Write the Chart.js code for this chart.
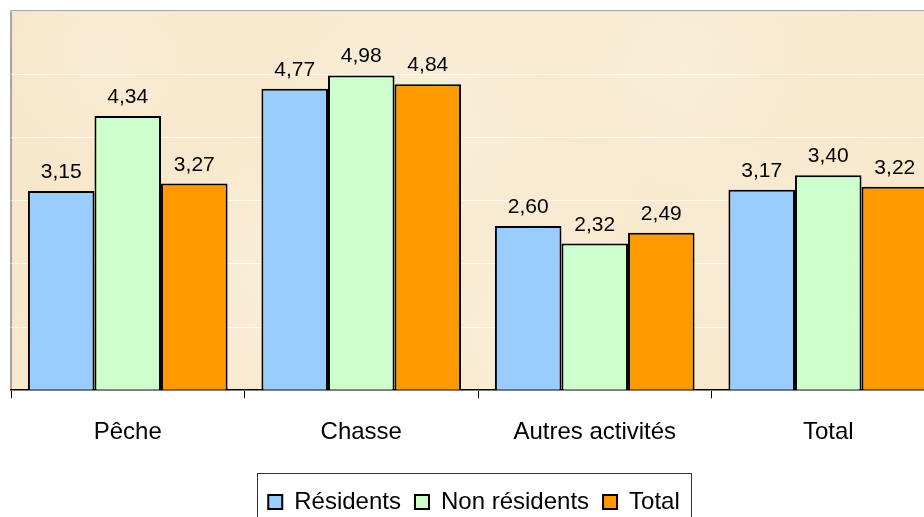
<!DOCTYPE html>
<html>
<head>
<meta charset="utf-8">
<script src="https://cdn.jsdelivr.net/npm/chart.js@4.4.0/dist/chart.umd.min.js"></script>
<style>
    html, body { margin: 0; padding: 0; background: #fff; overflow: hidden; }
    #wrap { position: relative; width: 946px; height: 528px; }
</style>
</head>
<body>
<div id="wrap"><canvas id="chart" width="946" height="528"></canvas></div>
<script>
// Données du graphique
const categories = ['Pêche', 'Chasse', 'Autres activités', 'Total'];
const residents = [3.15, 4.77, 2.60, 3.17];
const nonResidents = [4.34, 4.98, 2.32, 3.40];
const total = [3.27, 4.84, 2.49, 3.22];

const FONT = 'Liberation Sans, Arial, sans-serif';

// Fond "parchemin" de la zone de tracé
const parchmentBg = {
    id: 'parchmentBg',
    beforeDraw(chart) {
        const { ctx, chartArea: a } = chart;
        const w = a.right - a.left, h = a.bottom - a.top;
        ctx.save();
        const g = ctx.createLinearGradient(a.left, a.top, a.right, a.bottom);
        g.addColorStop(0, '#f7e6ca');
        g.addColorStop(0.5, '#f9ebd2');
        g.addColorStop(1, '#f7e7cc');
        ctx.fillStyle = g;
        ctx.fillRect(a.left, a.top, w, h);
        // quelques taches plus claires
        const spots = [[0.1, 0.12, 110], [0.42, 0.3, 150], [0.72, 0.15, 130], [0.28, 0.7, 140], [0.82, 0.65, 120], [0.55, 0.85, 110]];
        spots.forEach(([fx, fy, r]) => {
            const x = a.left + fx * w;
            const y = a.top + fy * h;
            const rg = ctx.createRadialGradient(x, y, 0, x, y, r);
            rg.addColorStop(0, 'rgba(252,243,226,0.45)');
            rg.addColorStop(1, 'rgba(252,243,226,0)');
            ctx.fillStyle = rg;
            ctx.fillRect(a.left, a.top, w, h);
        });
        ctx.strokeStyle = '#8c8c8c';
        ctx.lineWidth = 1.5;
        ctx.beginPath();
        ctx.moveTo(a.left, a.bottom);
        ctx.lineTo(a.left, a.top);
        ctx.lineTo(a.right, a.top);
        ctx.stroke();
        ctx.restore();
    }
};

// Étiquettes de valeurs au-dessus des barres
const valueLabels = {
    id: 'valueLabels',
    afterDatasetsDraw(chart) {
        const ctx = chart.ctx;
        ctx.save();
        ctx.font = '21px ' + FONT;
        ctx.fillStyle = '#000';
        ctx.textAlign = 'center';
        ctx.textBaseline = 'alphabetic';
        chart.data.datasets.forEach((ds, i) => {
            chart.getDatasetMeta(i).data.forEach((bar, j) => {
                const txt = ds.data[j].toFixed(2).replace('.', ',');
                ctx.fillText(txt, bar.x, bar.y - 13);
            });
        });
        ctx.restore();
    }
};

// Légende décalée et encadrée
const legendFrame = {
    id: 'legendFrame',
    afterLayout(chart) {
        chart.legend.left -= 4;
        chart.legend.right -= 4;
    },
    afterDraw(chart) {
        const boxes = chart.legend.legendHitBoxes;
        if (!boxes || !boxes.length) return;
        const left = Math.min(...boxes.map(b => b.left)) - 11;
        const right = Math.max(...boxes.map(b => b.left + b.width)) + 12;
        const top = Math.min(...boxes.map(b => b.top)) - 17;
        const ctx = chart.ctx;
        ctx.save();
        ctx.strokeStyle = '#333';
        ctx.lineWidth = 1;
        ctx.strokeRect(Math.round(left) + 0.5, Math.round(top) + 0.5, Math.round(right - left), chart.height);
        ctx.restore();
    }
};

const ctx = document.getElementById('chart').getContext('2d');
const chart = new Chart(ctx, {
    type: 'bar',
    data: {
        labels: categories,
        datasets: [
            { label: 'Résidents', data: residents, backgroundColor: '#99ccff', borderColor: '#000', borderWidth: 2 },
            { label: 'Non résidents', data: nonResidents, backgroundColor: '#ccffcc', borderColor: '#000', borderWidth: 2 },
            { label: 'Total', data: total, backgroundColor: '#ff9900', borderColor: '#000', borderWidth: 2 }
        ]
    },
    options: {
        responsive: false,
        animation: false,
        layout: { padding: { left: 11, right: 1, top: 11, bottom: 4 } },
        datasets: { bar: { categoryPercentage: 0.855, barPercentage: 1.0 } },
        plugins: {
            legend: {
                position: 'bottom',
                labels: {
                    font: { family: FONT, size: 24 },
                    color: '#000',
                    boxWidth: 14,
                    boxHeight: 14,
                    padding: 14
                }
            },
            tooltip: { enabled: false }
        },
        scales: {
            x: {
                grid: { drawOnChartArea: false, color: '#000', tickLength: 8, offset: true },
                border: { color: '#000', width: 1.5 },
                ticks: { color: '#000', font: { family: FONT, size: 24 }, padding: 20 },
                afterFit(axis) { axis.height += 9; }
            },
            y: {
                min: 0,
                max: 6,
                ticks: { display: false, stepSize: 1 },
                grid: { color: 'rgba(255,255,255,0.7)', drawTicks: false, lineWidth: 1 },
                border: { display: false }
            }
        }
    },
    plugins: [parchmentBg, valueLabels, legendFrame]
});
</script>
</body>
</html>
